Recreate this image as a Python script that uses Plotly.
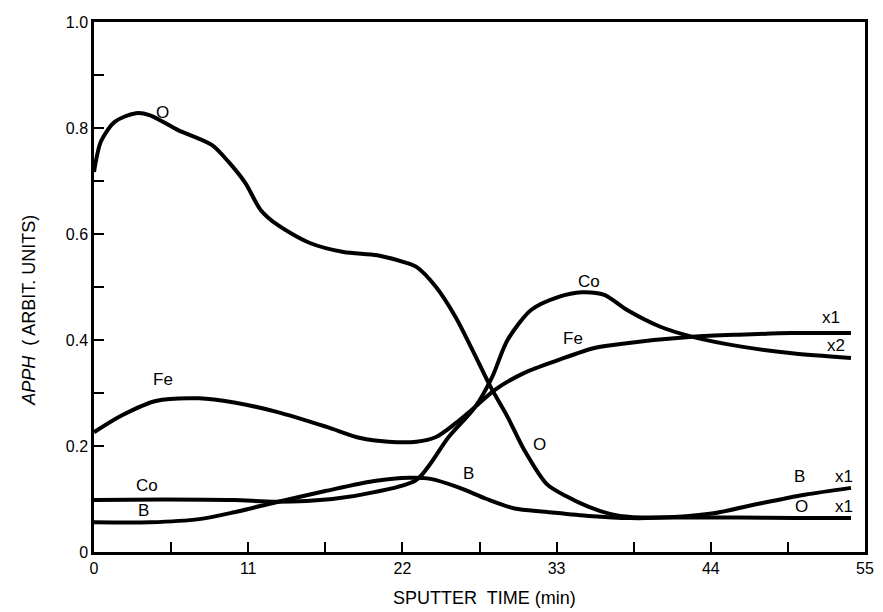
import plotly.graph_objects as go

# ---- data ----
o_t = [0, 0.5, 1.5, 3, 4, 6, 8.4, 9.6, 10.8, 11.9, 13.1, 15.4, 17.8, 20.2, 22.1, 23.0, 24.4, 25.8, 27.0, 28.3, 29.5, 30.7, 32.3, 33.7, 35.3, 36.8, 38.3, 42, 46, 50, 54]
o_v = [0.717, 0.775, 0.812, 0.828, 0.824, 0.796, 0.768, 0.736, 0.696, 0.645, 0.617, 0.583, 0.566, 0.560, 0.547, 0.538, 0.50, 0.443, 0.381, 0.311, 0.255, 0.192, 0.128, 0.105, 0.085, 0.072, 0.066, 0.065, 0.065, 0.064, 0.064]

fe_t = [0, 2, 4.4, 7.5, 10, 13.1, 16.6, 19, 21, 23.0, 24.4, 25.8, 27.2, 28.6, 30.7, 33.1, 35.7, 38, 42.7, 46, 49.8, 54]
fe_v = [0.226, 0.258, 0.285, 0.290, 0.282, 0.264, 0.236, 0.215, 0.208, 0.208, 0.217, 0.243, 0.274, 0.306, 0.338, 0.362, 0.385, 0.394, 0.406, 0.410, 0.413, 0.413]

co_t = [0, 5, 10, 13, 17, 20, 23.0, 25.3, 27.2, 28.4, 29.5, 31.2, 33.1, 34.8, 36.4, 38, 40.4, 42.7, 46.3, 49.8, 54]
co_v = [0.098, 0.099, 0.098, 0.095, 0.100, 0.113, 0.136, 0.217, 0.274, 0.330, 0.400, 0.457, 0.481, 0.490, 0.485, 0.457, 0.425, 0.406, 0.387, 0.375, 0.366]

b_t = [0, 4, 7.5, 10, 13, 16.5, 20, 22.5, 24, 26, 28, 30, 32.2, 35.3, 38.3, 41.4, 44.2, 47.6, 50.7, 54]
b_v = [0.056, 0.056, 0.062, 0.075, 0.094, 0.115, 0.134, 0.140, 0.138, 0.122, 0.100, 0.082, 0.076, 0.068, 0.064, 0.066, 0.073, 0.092, 0.108, 0.121]

x_ticks = [0, 5.5, 11, 16.5, 22, 27.5, 33, 38.5, 44, 49.5, 55]
x_ticktext = ["0", "", "11", "", "22", "", "33", "", "44", "", "55"]
y_ticks = [0, 0.1, 0.2, 0.3, 0.4, 0.5, 0.6, 0.7, 0.8, 0.9, 1.0]
y_ticktext = ["0", "", "0.2", "", "0.4", "", "0.6", "", "0.8", "", "1.0"]

# curve labels: (text, t, value)
labels = [
    ("O", 4.9, 0.83), ("Fe", 4.9, 0.325), ("Co", 3.8, 0.126), ("B", 3.5, 0.079),
    ("B", 26.7, 0.149), ("O", 31.8, 0.202), ("Fe", 34.2, 0.402), ("Co", 35.3, 0.51),
    ("x1", 52.6, 0.442), ("x2", 52.9, 0.39), ("B", 50.3, 0.142), ("x1", 53.5, 0.142),
    ("O", 50.5, 0.085), ("x1", 53.5, 0.085),
]

FONT = "Liberation Sans, Arial, sans-serif"

fig = go.Figure()
for t, v in [(o_t, o_v), (fe_t, fe_v), (co_t, co_v), (b_t, b_v)]:
    fig.add_trace(go.Scatter(x=t, y=v, mode="lines",
                             line=dict(color="black", width=4, shape="spline", smoothing=0.8),
                             showlegend=False, hoverinfo="skip"))

for txt, t, v in labels:
    fig.add_annotation(x=t, y=v, text=txt, showarrow=False,
                       font=dict(family=FONT, size=17, color="black"))

fig.add_annotation(xref="paper", yref="paper", x=0.506, y=-0.11, text="SPUTTER  TIME (min)",
                   showarrow=False, font=dict(family=FONT, size=18, color="black"))
fig.add_annotation(xref="paper", yref="paper", x=-0.1, y=0.457,
                   text="<i>APPH</i>  ( ARBIT. UNITS)", textangle=-90,
                   showarrow=False, font=dict(family=FONT, size=18, color="black"))

fig.update_xaxes(range=[0, 55], tickvals=x_ticks, ticktext=x_ticktext, ticks="inside",
                 ticklen=10, tickwidth=2, tickcolor="black", showline=True, linecolor="black",
                 linewidth=2.5, mirror=True, showgrid=False, zeroline=False,
                 tickfont=dict(family=FONT, size=16, color="black"))
fig.update_yaxes(range=[0, 1.0], tickvals=y_ticks, ticktext=y_ticktext, ticks="inside",
                 ticklen=10, tickwidth=2, tickcolor="black", showline=True, linecolor="black",
                 linewidth=2.5, mirror=True, showgrid=False, zeroline=False,
                 tickfont=dict(family=FONT, size=16, color="black"))

fig.update_layout(width=883, height=612, margin=dict(l=94, r=9, t=22, b=60),
                  plot_bgcolor="white", paper_bgcolor="white")

fig.write_html("out.html")
